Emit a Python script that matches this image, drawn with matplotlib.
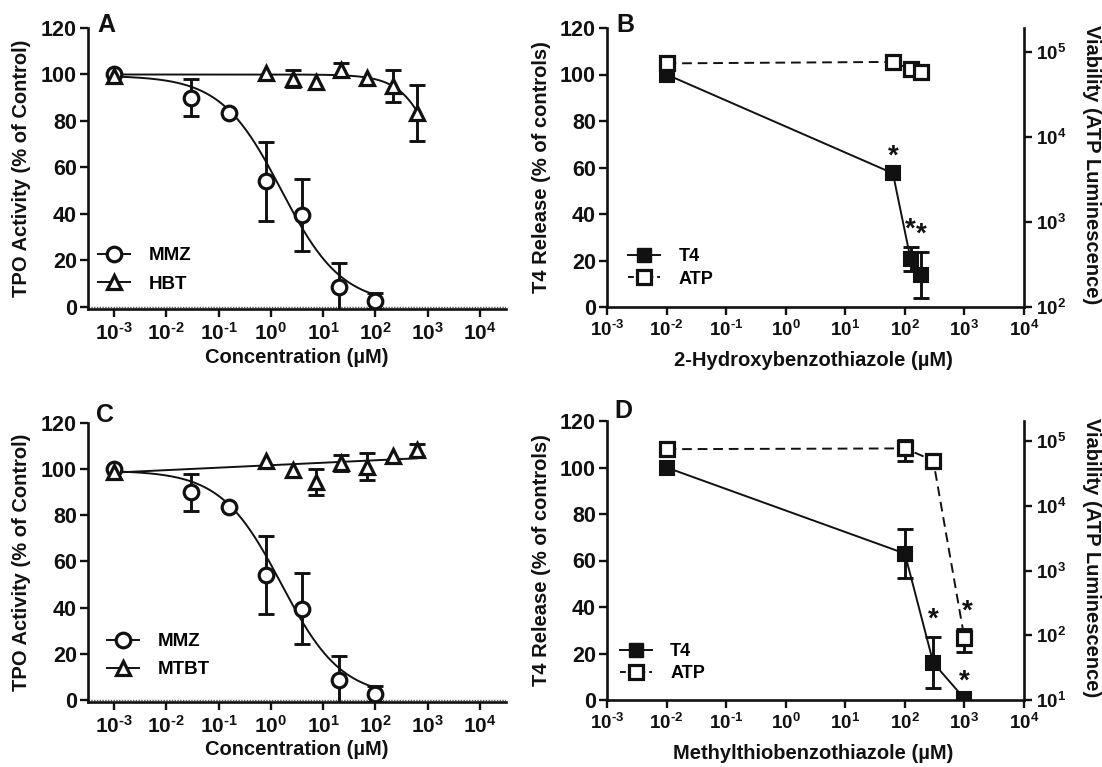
import numpy as np
import matplotlib
matplotlib.use('Agg')
import matplotlib.pyplot as plt
from matplotlib.lines import Line2D
from matplotlib.ticker import FixedLocator, NullLocator, FixedFormatter

plt.rcParams['font.family'] = ['Liberation Sans', 'DejaVu Sans']
plt.rcParams['font.weight'] = 'bold'
plt.rcParams['axes.labelweight'] = 'bold'
plt.rcParams['mathtext.fontset'] = 'custom'
plt.rcParams['mathtext.rm'] = 'Liberation Sans:bold'
plt.rcParams['mathtext.bf'] = 'Liberation Sans:bold'
plt.rcParams['mathtext.it'] = 'Liberation Sans:bold'
plt.rcParams['mathtext.default'] = 'rm'

K = '#111111'

# ---------------- data ----------------
# Panels A & C: TPO activity (% of control)
mmz_conc = [0.001, 0.03, 0.16, 0.8, 4, 20, 100]
mmz_act = [100, 90, 83.5, 54, 39.5, 8.5, 2.5]
mmz_err = [0, 8, 0, 17, 15.5, 10.5, 3.5]

hbt_conc = [0.001, 0.8, 2.6, 7.4, 22, 70, 220, 620]
hbt_act = [99.5, 100.8, 98.2, 96.8, 101.8, 98.3, 95, 83.6]
hbt_err = [0, 0, 3.6, 0, 3, 0, 7, 12]

mtbt_conc = [0.001, 0.8, 2.6, 7.4, 22, 70, 220, 620]
mtbt_act = [99, 103.8, 99.7, 94.5, 102.8, 101.2, 105.7, 108.5]
mtbt_err = [0, 0, 0, 5.8, 3.3, 6, 0, 2.6]

# fitted curve parameters
mmz_fit = {'top': 99.5, 'bottom': 1.0, 'log_ic50': 0.2, 'hill': 0.75, 'xmax': 100}
hbt_fit = {'top': 100.0, 'bottom': 0.0, 'log_ic50': 3.4, 'hill': 1.2, 'xmax': 630}
mtbt_fit = {'start': 98.6, 'slope': 1.07, 'xmax': 630}

# Panel B: 2-hydroxybenzothiazole
b_conc = [0.01, 63, 125, 190]
b_t4 = [100, 57.5, 20.5, 13.8]
b_t4_err = [0, 0, 5.2, 10]
b_t4_sig = [False, True, True, True]
b_atp = [74000, 77000, 63000, 59000]
b_atp_err = [0, 0, 0, 0]
b_atp_sig = [False, False, False, False]

# Panel D: methylthiobenzothiazole
d_conc = [0.01, 100, 300, 1000]
d_t4 = [100, 63, 16, 0.6]
d_t4_err = [0, 10.5, 11, 0]
d_t4_sig = [False, False, True, True]
d_atp = [75000, 77000, 50000, 90]
d_atp_err = [0, 28000, 0, 35]
d_atp_sig = [False, False, False, True]

xtick_exp = [-3, -2, -1, 0, 1, 2, 3, 4]

# ---------------- figure ----------------
W, H = 1102, 767
fig = plt.figure(figsize=(W / 100, H / 100), dpi=100)


def rect(l, r, t, b):
    return [l / W, 1 - b / H, (r - l) / W, (b - t) / H]


def pow_label(e):
    s = ('\u2010%d' % -e) if e < 0 else ('%d' % e)
    return '10$^{' + s + '}$'


def style_axis(ax, xfs, yfs):
    for s in ['top', 'right']:
        ax.spines[s].set_visible(False)
    for s in ['left', 'bottom']:
        ax.spines[s].set_linewidth(1.9)
        ax.spines[s].set_color(K)
    ax.set_xscale('log')
    ax.xaxis.set_major_locator(FixedLocator([10.0 ** e for e in xtick_exp]))
    ax.xaxis.set_major_formatter(FixedFormatter([pow_label(e) for e in xtick_exp]))
    ax.xaxis.set_minor_locator(NullLocator())
    ax.set_yticks([0, 20, 40, 60, 80, 100, 120])
    ax.tick_params(axis='x', length=6, width=1.7, color=K, labelsize=xfs, pad=3, labelcolor=K)
    ax.tick_params(axis='y', length=6, width=1.7, color=K, labelsize=yfs, pad=2, labelcolor=K)


def errbars(ax, x, y, e, **kw):
    xs = [a for a, b in zip(x, e) if b > 0]
    ys = [a for a, b in zip(y, e) if b > 0]
    es = [b for b in e if b > 0]
    if xs:
        ax.errorbar(xs, ys, yerr=es, fmt='none', ecolor=K, elinewidth=2.1,
                    capsize=5.5, capthick=2.1, zorder=3, **kw)


def sigmoid(p):
    xs = np.logspace(-3, np.log10(p['xmax']), 300)
    ys = p['bottom'] + (p['top'] - p['bottom']) / (1 + (xs / 10 ** p['log_ic50']) ** p['hill'])
    return xs, ys


def tpo_panel(rc, other_label, oc, oa, oe, other_curve, label_xy, leg_xy):
    ax = fig.add_axes(rect(*rc))
    style_axis(ax, 15, 15.5)
    ax.set_xlim(10 ** -3.5, 10 ** 4.5)
    ax.set_ylim(-1, 120)
    ax.axhline(0, ls=(0, (1, 1)), lw=1.0, color='#555555', zorder=1)
    # MMZ
    cx, cy = sigmoid(mmz_fit)
    ax.plot(cx, cy, color=K, lw=1.4, zorder=2)
    errbars(ax, mmz_conc, mmz_act, mmz_err)
    ax.plot(mmz_conc, mmz_act, ls='none', marker='o', ms=10.5, mfc='white', mec=K, mew=2.3, zorder=4)
    # other compound
    ox, oy = other_curve
    ax.plot(ox, oy, color=K, lw=1.4, zorder=2)
    errbars(ax, oc, oa, oe)
    ax.plot(oc, oa, ls='none', marker='^', ms=10, mfc='white', mec=K, mew=2.3, zorder=4)
    ax.set_ylabel('TPO Activity (% of Control)', fontsize=14.5, color=K, fontweight='bold')
    ax.yaxis.label.set_va('center')
    ax.yaxis.set_label_coords(label_xy[0], 0.5)
    ax.set_xlabel('Concentration (µM)', fontsize=14.5, color=K, fontweight='bold')
    ax.xaxis.label.set_va('center')
    ax.xaxis.set_label_coords(0.5, label_xy[1])
    handles = [Line2D([], [], color=K, lw=1.4, marker='o', ms=10.5, mfc='white', mec=K, mew=2.3),
               Line2D([], [], color=K, lw=1.4, marker='^', ms=10, mfc='white', mec=K, mew=2.3)]
    ax.legend(handles, ['MMZ', other_label], loc='center left', bbox_to_anchor=leg_xy,
              frameon=False, prop={'size': 13.5, 'weight': 'bold'}, handlelength=1.7,
              handletextpad=1.0, labelspacing=0.6, borderpad=0, borderaxespad=0)
    return ax


hx, hy = sigmoid(hbt_fit)
axA = tpo_panel((88, 506, 28, 309.3), 'HBT', hbt_conc, hbt_act, hbt_err, (hx, hy),
                (-0.158, -0.17), (0.025, 0.14))
mx = np.logspace(-3, np.log10(mtbt_fit['xmax']), 50)
my = mtbt_fit['start'] + mtbt_fit['slope'] * (np.log10(mx) + 3)
axC = tpo_panel((88, 506, 423.3, 702), 'MTBT', mtbt_conc, mtbt_act, mtbt_err, (mx, my),
                (-0.158, -0.17), (0.045, 0.166))


def t4_panel(rc, xlabel, conc, t4, t4e, t4s, atp, atpe, atps, rlim, rticks, leg_xy):
    ax = fig.add_axes(rect(*rc))
    style_axis(ax, 13.5, 15.5)
    ax.set_xlim(1e-3, 1e4)
    ax.set_ylim(0, 120)
    ax2 = ax.twinx()
    ax2.set_yscale('log')
    ax2.set_ylim(*rlim)
    for s in ['top', 'left', 'bottom']:
        ax2.spines[s].set_visible(False)
    ax2.spines['right'].set_linewidth(1.9)
    ax2.spines['right'].set_color(K)
    ax2.yaxis.set_major_locator(FixedLocator([10.0 ** e for e in rticks]))
    ax2.yaxis.set_major_formatter(FixedFormatter([pow_label(e) for e in rticks]))
    ax2.yaxis.set_minor_locator(NullLocator())
    ax2.tick_params(axis='y', length=6, width=1.7, color=K, labelsize=13.5, pad=3, labelcolor=K)

    ax.plot(conc, t4, color=K, lw=1.4, zorder=2)
    errbars(ax, conc, t4, t4e)
    ax.plot(conc, t4, ls='none', marker='s', ms=10, mfc=K, mec=K, mew=1.5, zorder=4)
    for x, y, e, s in zip(conc, t4, t4e, t4s):
        if s:
            ax.annotate('*', xy=(x, y + e), xytext=(0, 3), textcoords='offset points',
                        ha='center', va='bottom', fontsize=20, color=K)

    ax2.plot(conc, atp, color=K, lw=1.4, ls=(0, (5, 3)), zorder=2)
    errbars(ax2, conc, atp, atpe)
    ax2.plot(conc, atp, ls='none', marker='s', ms=10, mfc='white', mec=K, mew=2.3, zorder=4)
    for x, y, e, s in zip(conc, atp, atpe, atps):
        if s:
            ax2.annotate('*', xy=(x, y + e), xytext=(2, 3), textcoords='offset points',
                         ha='center', va='bottom', fontsize=20, color=K)

    ax.set_ylabel('T4 Release (% of controls)', fontsize=14.5, color=K, fontweight='bold')
    ax.yaxis.label.set_va('center')
    ax.yaxis.set_label_coords(-0.158, 0.5)
    ax.set_xlabel(xlabel, fontsize=14.5, color=K, fontweight='bold')
    ax.xaxis.label.set_va('center')
    ax.xaxis.set_label_coords(0.494, -0.193)
    ax2.set_ylabel('Viability (ATP Luminescence)', fontsize=14.5, color=K, rotation=270,
                   fontweight='bold')
    ax2.yaxis.label.set_va('center')
    ax2.yaxis.set_label_coords(1.163, 0.51)

    handles = [Line2D([], [], color=K, lw=1.4, marker='s', ms=10, mfc=K, mec=K),
               Line2D([], [], color=K, lw=1.4, ls=(0, (3, 2)), marker='s', ms=10, mfc='white',
                      mec=K, mew=2.3)]
    ax2.legend(handles, ['T4', 'ATP'], loc='center left', bbox_to_anchor=leg_xy,
               frameon=False, prop={'size': 13, 'weight': 'bold'}, handlelength=1.8,
               handletextpad=1.0, labelspacing=0.3, borderpad=0, borderaxespad=0)
    return ax, ax2


axB = t4_panel((607, 1024, 28, 307), '2-Hydroxybenzothiazole (µM)', b_conc, b_t4, b_t4_err, b_t4_sig,
               b_atp, b_atp_err, b_atp_sig, (100, 10 ** 5.286), [2, 3, 4, 5], (0.05, 0.14))
axD = t4_panel((607, 1024, 421, 700), 'Methylthiobenzothiazole (µM)', d_conc, d_t4, d_t4_err, d_t4_sig,
               d_atp, d_atp_err, d_atp_sig, (10, 10 ** 5.31), [1, 2, 3, 4, 5], (0.03, 0.134))

# panel letters
for letter, (px, py) in zip('ABCD', [(97, 25), (616, 25), (96, 415), (614, 411)]):
    fig.text(px / W, 1 - py / H, letter, fontsize=18, fontweight='bold', color=K,
             ha='left', va='center')

fig.savefig('out.png', dpi=100)
